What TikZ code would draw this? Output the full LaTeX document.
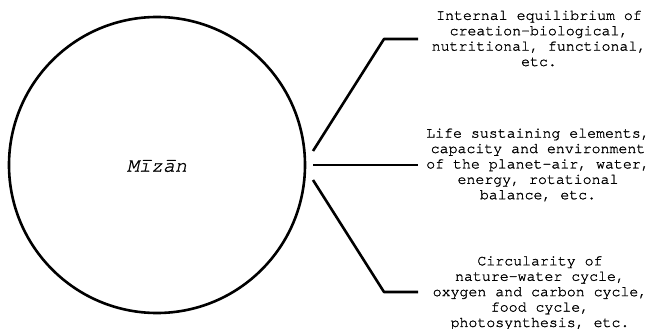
\documentclass[tikz,border=0pt]{standalone}
\usepackage{fontspec}
\setmainfont[FakeBold=1.2]{TeX Gyre Cursor}
\begin{document}
\begin{tikzpicture}[x=1pt,y=-1pt,
  conn/.style={line width=2.6pt,line join=round},
  desc/.style={align=center,font=\fontsize{14.9}{15.4}\selectfont,inner sep=0pt}]
\useasboundingbox (0,0) rectangle (649,329);
\node[circle,draw,line width=2.6pt,minimum size=296pt,inner sep=0pt] (c) at (157,165) {};
\node[font=\fontsize{20}{22}\selectfont\itshape] (m) at (157,166) {Mīzān};
\coordinate (s1) at (313,151);
\coordinate (k1) at (384,39);
\coordinate (e1) at (418,39);
\coordinate (s2) at (313,165);
\coordinate (e2) at (418,165);
\coordinate (s3) at (313,180);
\coordinate (k3) at (384,292);
\coordinate (e3) at (418,292);
\draw[conn] (s1) -- (k1) -- (e1);
\draw[conn] (s2) -- (e2);
\draw[conn] (s3) -- (k3) -- (e3);
\node[desc] (t1) at (539,38.5) {Internal equilibrium of\\creation---biological,\\nutritional, functional,\\etc.};
\node[desc] (t2) at (538,165) {Life sustaining elements,\\capacity and environment\\of the planet---air, water,\\energy, rotational\\balance, etc.};
\node[desc] (t3) at (540,293) {Circularity of\\nature---water cycle,\\oxygen and carbon cycle,\\food cycle,\\photosynthesis, etc.};
\end{tikzpicture}
\end{document}
